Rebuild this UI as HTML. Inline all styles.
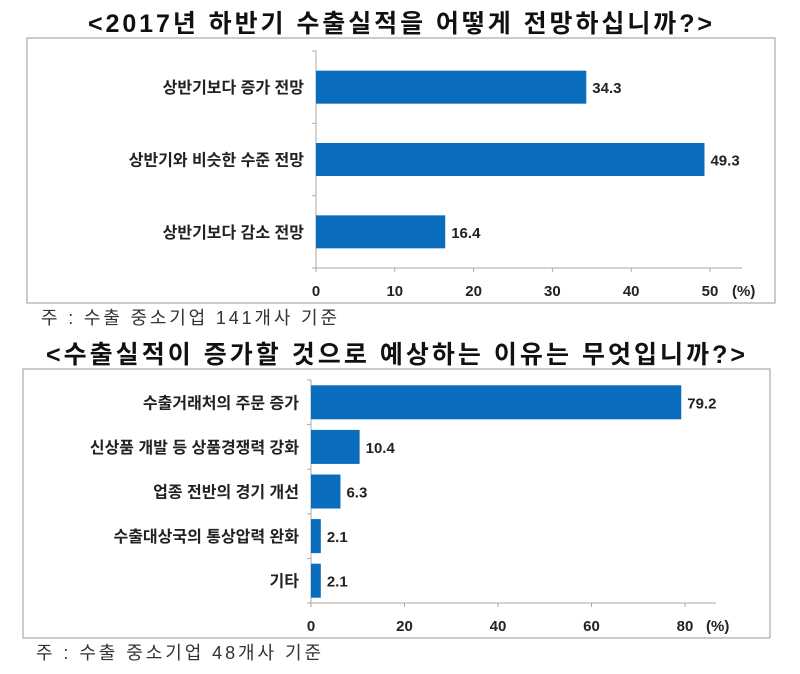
<!DOCTYPE html>
<html><head><meta charset="utf-8">
<style>
body{margin:0;background:#fff;width:800px;height:669px;overflow:hidden;font-family:"Liberation Sans","Noto Sans CJK KR",sans-serif;}
svg text{font-family:"Liberation Sans","Noto Sans CJK KR",sans-serif;}
</style></head>
<body>
<svg id="s" width="800" height="669" xmlns="http://www.w3.org/2000/svg">
<text x="88" y="32" textLength="624" lengthAdjust="spacing" font-size="25" font-weight="bold" fill="#111">&lt;2017년 하반기 수출실적을 어떻게 전망하십니까?&gt;</text>
<rect x="27" y="38" width="748" height="265" fill="#fff" stroke="#999"/>
<text x="41" y="324" textLength="296" lengthAdjust="spacing" font-size="18" fill="#333">주 : 수출 중소기업 141개사 기준</text>
<text x="46" y="363" textLength="699" lengthAdjust="spacing" font-size="25" font-weight="bold" fill="#111">&lt;수출실적이 증가할 것으로 예상하는 이유는 무엇입니까?&gt;</text>
<rect x="23" y="369" width="747" height="269" fill="#fff" stroke="#999"/>
<text x="36" y="659" textLength="285" lengthAdjust="spacing" font-size="18" fill="#333">주 : 수출 중소기업 48개사 기준</text>
<g id="c1"></g><g id="c2"></g>
</svg>
<script>
const cats1=["상반기보다 증가 전망","상반기와 비슷한 수준 전망","상반기보다 감소 전망"];
const vals1=[34.3,49.3,16.4];
const ticks1=[0,10,20,30,40,50];
const cats2=["수출거래처의 주문 증가","신상품 개발 등 상품경쟁력 강화","업종 전반의 경기 개선","수출대상국의 통상압력 완화","기타"];
const vals2=[79.2,10.4,6.3,2.1,2.1];
const ticks2=[0,20,40,60,80];
const NS="http://www.w3.org/2000/svg";
function mk(p,t,a){const e=document.createElementNS(NS,t);for(const k in a)e.setAttribute(k,a[k]);p.appendChild(e);return e;}
function draw(g,cats,vals,ticks,o,pfx){
  const x=v=>o.x0+(v-ticks[0])/(ticks[ticks.length-1]-ticks[0])*(o.x1-o.x0);
  const band=(o.yb-o.yt)/cats.length;
  let l=mk(g,'line',{x1:o.x0,y1:o.yt,x2:o.x0,y2:o.yb,stroke:'#aaa'});
  
  
  l=mk(g,'line',{x1:o.x0,y1:o.yb,x2:o.xe,y2:o.yb,stroke:'#aaa'});
  
  
  for(let i=0;i<=cats.length;i++){mk(g,'line',{x1:o.x0-4,x2:o.x0,y1:o.yt+i*band,y2:o.yt+i*band,stroke:'#aaa'});}
  ticks.forEach(t=>{
    mk(g,'line',{x1:x(t),x2:x(t),y1:o.yb,y2:o.yb+4,stroke:'#aaa'});
    const tx=mk(g,'text',{x:x(t),y:o.yb+28,'text-anchor':'middle','font-size':15,'font-weight':'bold',fill:'#222'});
    tx.textContent=t;
    
    
  });
  const u=mk(g,'text',{x:o.xe-10,y:o.yb+28,'font-size':15,'font-weight':'bold',fill:'#222'});u.textContent='(%)';
  
  
  cats.forEach((c,i)=>{
    const cy=o.yt+band*(i+0.5);
    const r=mk(g,'rect',{x:o.x0,y:cy-o.bh/2,width:x(vals[i])-o.x0,height:o.bh,fill:'#0a6cbd'});
    
    
    const lb=mk(g,'text',{x:o.x0-12,y:cy+6,'text-anchor':'end','font-size':16,'font-weight':'bold',fill:'#222'});lb.textContent=c;
    
    
    const v=mk(g,'text',{x:x(vals[i])+6,y:cy+6,'font-size':15,'font-weight':'bold',fill:'#222'});v.textContent=vals[i];
    
    
  });
}
draw(document.getElementById('c1'),cats1,vals1,ticks1,{x0:316,x1:710,xe:742,yt:51,yb:268,bh:33},'chart1');
draw(document.getElementById('c2'),cats2,vals2,ticks2,{x0:311,x1:685,xe:716,yt:380,yb:603,bh:34},'chart2');
</script>
</body></html>
